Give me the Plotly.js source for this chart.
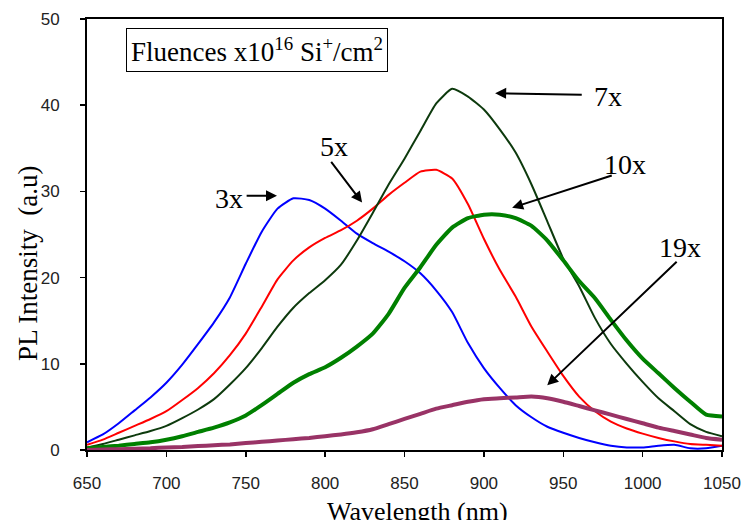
<!DOCTYPE html>
<html>
<head>
<meta charset="utf-8">
<script src="https://cdn.plot.ly/plotly-3.0.1.min.js"></script>
<style>html,body{margin:0;padding:0;background:#fff;}#chart{width:743px;height:520px;}</style>
</head>
<body>
<div id="chart"></div>
<script>
const wavelength = [650,660,670,680,690,700,710,720,730,740,750,760,770,780,790,800,810,820,830,840,850,860,870,880,890,900,910,920,930,940,950,960,970,980,990,1000,1010,1020,1030,1040,1050];

const fluence3x  = [0.9,1.8,3.1,4.6,6.1,7.8,9.9,12.3,14.8,17.7,21.6,25.3,28.0,29.2,29.0,28.0,26.6,25.1,24.0,23.0,21.9,20.5,18.5,16.0,12.4,9.5,7.2,5.2,3.8,2.7,2.0,1.4,0.9,0.5,0.3,0.3,0.5,0.6,0.2,0.2,0.5];
const fluence5x  = [0.6,1.2,2.0,2.8,3.6,4.5,5.8,7.2,8.9,11.0,13.5,16.6,19.8,22.0,23.5,24.6,25.5,26.6,28.0,29.6,31.0,32.3,32.5,31.5,28.5,24.5,20.9,17.8,14.3,11.4,8.6,6.2,4.5,3.3,2.5,1.9,1.4,1.0,0.7,0.6,0.5];
const fluence7x  = [0.3,0.7,1.2,1.7,2.2,2.8,3.7,4.7,5.9,7.6,9.5,11.8,14.3,16.5,18.2,19.7,21.5,24.3,27.5,30.8,33.8,37.0,40.2,41.9,41.0,39.5,37.2,34.5,30.8,26.5,22.2,19.0,15.3,12.3,10.0,7.9,6.0,4.5,3.0,2.1,1.6];
const fluence10x = [0.2,0.35,0.5,0.7,0.9,1.2,1.6,2.1,2.6,3.2,4.0,5.2,6.5,7.8,8.8,9.6,10.7,12.0,13.5,15.8,18.8,21.2,23.8,25.8,26.9,27.3,27.3,26.9,26.0,24.3,22.0,19.6,17.6,15.1,12.7,10.6,8.9,7.2,5.6,4.1,3.9];
const fluence19x = [0.0,0.05,0.1,0.15,0.2,0.3,0.35,0.45,0.55,0.65,0.8,0.95,1.1,1.25,1.4,1.6,1.8,2.05,2.4,3.0,3.6,4.2,4.8,5.2,5.6,5.9,6.0,6.1,6.2,6.0,5.6,5.1,4.6,4.1,3.6,3.1,2.6,2.2,1.8,1.4,1.2];

const seriesNames = ["3x","5x","7x","10x","19x"];
const xTicks = [650,700,750,800,850,900,950,1000,1050];
const yTicks = [0,10,20,30,40,50];

const seriesData = [fluence3x, fluence5x, fluence7x, fluence10x, fluence19x];
const colors = ["#0000ff","#ff0000","#0d3a0d","#008000","#993366"];
const widths = [2, 2, 2, 4, 4];

const traces = seriesData.map((ys, i) => ({
  x: wavelength, y: ys, type: "scatter", mode: "lines", name: seriesNames[i],
  line: {color: colors[i], width: widths[i], shape: "spline", smoothing: 0.5},
  hoverinfo: "skip"
}));

// Labels and arrows (label position, arrow tail, arrow head) in data coordinates
const labelPos = [[739.5,29.2],[805.7,35.2],[978.3,41.0],[989,33.1],[1023.7,23.5]];
const arrowTail = [[749.6,29.5],[803.1,33.6],[962.6,41.2],[981.5,31.9],[1022.4,22.0]];
const arrowHead = [[769.7,29.5],[823.3,28.7],[907.1,41.4],[917.8,28.1],[939.9,7.5]];

const serif = "Liberation Serif, Times New Roman, serif";
const annotations = [];
seriesNames.forEach((n, i) => {
  annotations.push({x: labelPos[i][0], y: labelPos[i][1], xref: "x", yref: "y", text: n, showarrow: false,
    xanchor: "center", yanchor: "middle",
    font: {family: serif, size: 28, color: "#000"}});
  annotations.push({x: arrowHead[i][0], y: arrowHead[i][1], ax: arrowTail[i][0], ay: arrowTail[i][1],
    xref: "x", yref: "y", axref: "x", ayref: "y", text: "", showarrow: true,
    arrowhead: 2, arrowsize: 1.1, arrowwidth: 2, arrowcolor: "#000"});
});
annotations.push({x: 756.8, y: 46.4, xref: "x", yref: "y", showarrow: false, xanchor: "center", yanchor: "middle",
  text: "Fluences x10<sup>16</sup> Si<sup>+</sup>/cm<sup>2</sup>",
  font: {family: serif, size: 27, color: "#000"},
  bordercolor: "#000", borderwidth: 1, borderpad: 4, bgcolor: "#fff"});
annotations.push({x: -0.093, y: 0.434, xref: "paper", yref: "paper", showarrow: false, textangle: -90,
  xanchor: "center", yanchor: "middle",
  text: "PL Intensity  (a.u)", font: {family: serif, size: 27, color: "#000"}});
annotations.push({x: 0.52, y: -0.143, xref: "paper", yref: "paper", showarrow: false,
  xanchor: "center", yanchor: "middle",
  text: "Wavelength (nm)", font: {family: serif, size: 26, color: "#000"}});

const axisCommon = {
  showgrid: false, zeroline: false, showline: true, mirror: true, linecolor: "#000", linewidth: 2,
  ticks: "outside", ticklen: 5, tickcolor: "#000", tickwidth: 1.5,
  tickfont: {family: "Liberation Sans, Arial, sans-serif", size: 17, color: "#222"}
};

const layout = {
  width: 743, height: 520,
  margin: {l: 87, r: 21, t: 19, b: 70},
  paper_bgcolor: "#fff", plot_bgcolor: "#fff",
  showlegend: false,
  xaxis: Object.assign({}, axisCommon, {range: [650, 1050], tickvals: xTicks, ticktext: xTicks.map(String), ticklabelstandoff: 12}),
  yaxis: Object.assign({}, axisCommon, {range: [0, 50], tickvals: yTicks, ticktext: yTicks.map(String), ticklabelstandoff: 17}),
  annotations: annotations
};

Plotly.newPlot("chart", traces, layout, {displayModeBar: false, staticPlot: true});
</script>
</body>
</html>
